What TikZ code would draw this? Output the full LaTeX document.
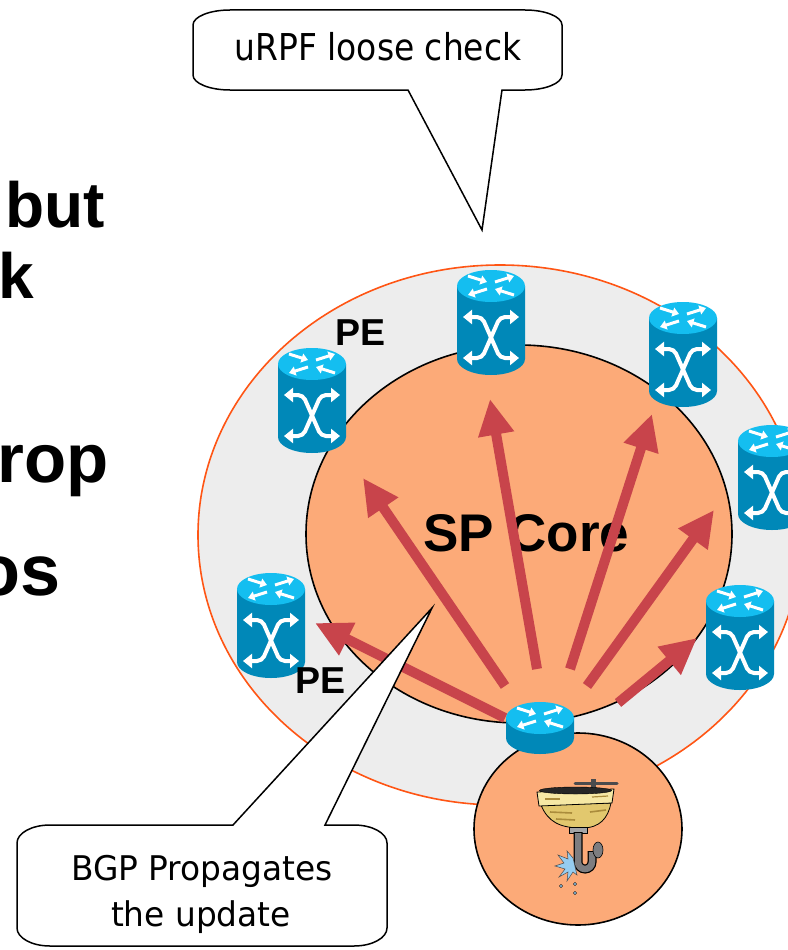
\documentclass[tikz,border=0pt]{standalone}
\usepackage{fontspec}
\setmainfont{Liberation Sans}
\newfontfamily\calloutfont{DejaVu Sans}[FakeStretch=0.89]
\newfontfamily\calloutwidefont{DejaVu Sans}[FakeStretch=0.965]
\usetikzlibrary{arrows.meta}

\definecolor{ringgrey}{RGB}{237,237,237}
\definecolor{ringorange}{RGB}{255,85,20}
\definecolor{coresalmon}{RGB}{252,170,120}
\definecolor{arrowred}{RGB}{200,68,75}
\definecolor{routertop}{RGB}{20,190,240}
\definecolor{routerbody}{RGB}{0,136,184}
\definecolor{basinyellow}{RGB}{226,200,110}
\definecolor{basindark}{RGB}{170,140,60}
\definecolor{rimyellow}{RGB}{246,232,165}
\definecolor{pipegrey}{RGB}{125,125,128}
\definecolor{splashblue}{RGB}{150,205,240}

\tikzset{
  update/.style={draw=arrowred, line width=10pt, -{Triangle[width=34pt,length=36pt]}},
  topglyph/.style={white, line width=3pt, -{Triangle[width=9pt,length=6.5pt]}},
  xglyph/.style={white, line width=4pt, rounded corners=5pt,
    {Triangle[width=14pt,length=9pt]}-{Triangle[width=14pt,length=9pt]}},
  balloon/.style={draw=black, fill=white, line width=1.5pt, line join=miter},
  balloontext/.style={font=#1, anchor=base, inner sep=0pt},
  pelabel/.style={font=\bfseries\fontsize{37.5}{37.5}\selectfont, anchor=base west, inner sep=0pt},
  slidetext/.style={font=\bfseries\fontsize{#1}{#1}\selectfont, anchor=base west, inner sep=0pt},
  routerglyph/.pic={
    \draw[topglyph] (-23,-10) -- (-4,-4);
    \draw[topglyph] (4,-4) -- (23,-10);
    \draw[topglyph] (-4,3) -- (-23,9);
    \draw[topglyph] (23,9) -- (4,3);
  },
  tallrouter/.pic={
    \fill[routerbody] (-34,0) -- (-34,73)
      arc[start angle=180,end angle=0,x radius=34,y radius=16] -- (34,0) -- cycle;
    \fill[routertop] (0,0) ellipse[x radius=34,y radius=16];
    \pic {routerglyph};
    \draw[xglyph] (-28,31) -- (-9,31) -- (9,72) -- (28,72);
    \draw[xglyph] (28,31) -- (9,31) -- (-9,72) -- (-28,72);
    \coordinate (-c) at (0,37);
  },
  flatrouter/.pic={
    \fill[routerbody] (-34,0) -- (-34,20)
      arc[start angle=180,end angle=0,x radius=34,y radius=16] -- (34,0) -- cycle;
    \fill[routertop] (0,0) ellipse[x radius=34,y radius=16];
    \pic {routerglyph};
    \coordinate (-c) at (0,0);
  }
}

\begin{document}
\begin{tikzpicture}[x=1pt,y=-1pt]
\useasboundingbox (0,0) rectangle (787,950);
\fill[white] (0,0) rectangle (787,950);

% provider edge ring, core and customer site
\filldraw[fill=ringgrey, draw=ringorange, line width=1.6pt] (500,535) ellipse[x radius=302,y radius=270];
\filldraw[fill=coresalmon, draw=black, line width=1.6pt] (519,534) ellipse[x radius=213,y radius=189];
\filldraw[fill=coresalmon, draw=black, line width=1.6pt] (578,829) ellipse[x radius=104,y radius=96];

\node[font=\bfseries\fontsize{53}{53}\selectfont, anchor=base west, inner sep=0pt] (core) at (423,551) {SP Core};

% update propagation from the customer-facing router
\coordinate (sA) at (505,718); \coordinate (tA) at (315,623);
\coordinate (sB) at (505,686); \coordinate (tB) at (363,478);
\coordinate (sC) at (537,669); \coordinate (tC) at (490,399);
\coordinate (sD) at (570,669); \coordinate (tD) at (652,414);
\coordinate (sE) at (587,686); \coordinate (tE) at (714,510);
\coordinate (sF) at (618,703); \coordinate (tF) at (697,638);
\foreach \k in {A,B,C,D,E,F} \draw[update] (s\k) -- (t\k);

% routers
\pic (rtop) at (491,286) {tallrouter};
\pic (rul)  at (312,364) {tallrouter};
\pic (rll)  at (271,589) {tallrouter};
\pic (rur)  at (683,318) {tallrouter};
\pic (rr)   at (772,441) {tallrouter};
\pic (rlr)  at (740,601) {tallrouter};
\pic (hub)  at (540,718) {flatrouter};

\node[pelabel] (pe1) at (335,345) {PE};
\node[pelabel] (pe2) at (295,693) {PE};

% sink in the customer site
\draw[pipegrey!60!black, line width=3pt, line cap=round] (575,783) -- (617,783);
\draw[pipegrey!60!black, line width=5pt] (593,779) -- (593,791);
\filldraw[fill=basinyellow, draw=black, line width=0.8pt]
  (541,805) .. controls (548,822) and (560,828) .. (582,828)
  .. controls (600,828) and (608,818) .. (611,803) -- cycle;
\draw[basindark, line width=1.6pt] (550,812) -- (572,813);
\draw[basindark, line width=1.6pt] (556,819) -- (575,820);
\draw[basindark, line width=1.6pt] (590,812) -- (606,810);
\filldraw[fill=rimyellow, draw=black, line width=0.8pt] (537,792) -- (539,806) -- (612,803) -- (614,789) -- cycle;
\draw[basindark, line width=1.2pt] (545,799) -- (560,799);
\draw[basindark, line width=1.2pt] (592,797) -- (608,796);
\filldraw[fill=black!85, draw=black] (575.5,790.5) ellipse[x radius=36,y radius=3.5];
\filldraw[fill=pipegrey!70, draw=black, line width=0.6pt] (569,827) rectangle (587,833);
\draw[black, line width=9pt] (578,832) -- (578,862) arc[start angle=180,end angle=0,x radius=7,y radius=7] -- (592,851);
\draw[pipegrey, line width=6.5pt] (578,833) -- (578,862) arc[start angle=180,end angle=0,x radius=7,y radius=7] -- (592,852);
\filldraw[fill=pipegrey, draw=black, line width=0.6pt] (598,850) ellipse[x radius=5,y radius=8];
\filldraw[fill=splashblue, draw=black!70, line width=0.5pt]
  (573,858) -- (567,851) -- (568,859) -- (558,855) -- (564,863) -- (555,866) -- (565,869)
  -- (559,877) -- (568,872) -- (567,881) -- (573,872) -- (577,875) -- cycle;
\foreach \p in {(561,886),(575,884),(575,893)}
  \filldraw[fill=splashblue, draw=black, line width=0.4pt] \p circle[radius=1.6];

% balloons
\draw[balloon] (230,10) -- (525,10) arc[start angle=270,end angle=360,x radius=37,y radius=15]
  -- (562,75) arc[start angle=0,end angle=90,x radius=37,y radius=15]
  -- (502,90) -- (482,230) -- (408,90) -- (230,90)
  arc[start angle=90,end angle=180,x radius=37,y radius=15]
  -- (193,25) arc[start angle=180,end angle=270,x radius=37,y radius=15] -- cycle;
\node[balloontext={\calloutfont\fontsize{37}{37}\selectfont}] (urpf) at (378,60) {uRPF loose check};

\draw[balloon] (50,825) -- (233,825) -- (432,608) -- (325,825) -- (354,825)
  arc[start angle=270,end angle=360,x radius=33,y radius=18]
  -- (387,928) arc[start angle=0,end angle=90,x radius=33,y radius=18]
  -- (50,946) arc[start angle=90,end angle=180,x radius=33,y radius=18]
  -- (17,843) arc[start angle=180,end angle=270,x radius=33,y radius=18] -- cycle;
\node[balloontext={\calloutwidefont\fontsize{34}{34}\selectfont}] (bgp1) at (202,880) {BGP Propagates};
\node[balloontext={\calloutwidefont\fontsize{34}{34}\selectfont}] (bgp2) at (201,926) {the update};

% slide text running in from the left
\node[slidetext=64] (w1) at (5.5,227) {but};
\node[slidetext=64] (w2) at (-2,298) {k};
\node[slidetext=69] (w3) at (-2.5,482) {rop};
\node[slidetext=72] (w4) at (-24,595) {os};
\end{tikzpicture}
\end{document}
